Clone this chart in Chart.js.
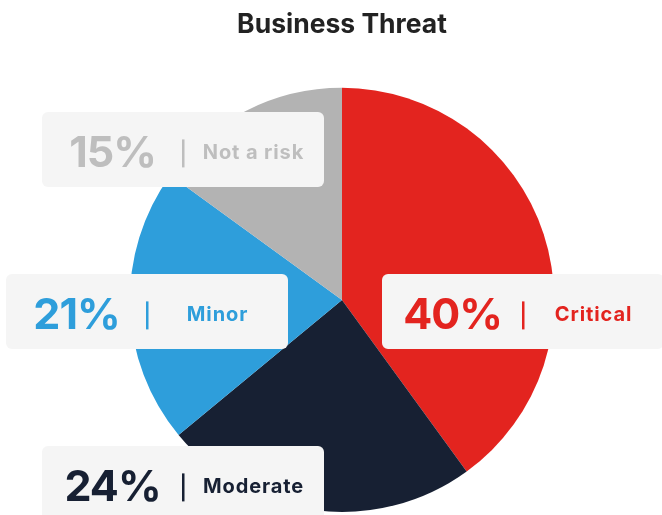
<!DOCTYPE html>
<html>
<head>
<meta charset="utf-8">
<script src="https://cdn.jsdelivr.net/npm/chart.js@4"></script>
<style>
  html, body { margin: 0; padding: 0; background: #fff; }
  #wrap { width: 662px; height: 515px; }
</style>
</head>
<body>
<div id="wrap"><canvas id="threat"></canvas></div>
<script>
// share of answers per threat level (percent)
const levels = ['Critical', 'Moderate', 'Minor', 'Not a risk'];
const shares = [40, 24, 21, 15];
const sliceColors = ['#e3241f', '#172033', '#2e9edb', '#b3b3b3'];
const labelColors = ['#e3241f', '#172033', '#2e9edb', '#bebebe'];

// callout boxes, placed relative to the pie centre
const callouts = {
  0: { dx: 40, dy: -26 },
  1: { dx: -300, dy: 146 },
  2: { dx: -336, dy: -26 },
  3: { dx: -300, dy: -188 }
};

const calloutPlugin = {
  id: 'callouts',
  afterDatasetsDraw(chart, args, opts) {
    const ctx = chart.ctx;
    const arcs = chart.getDatasetMeta(0).data;
    const w = opts.width, h = opts.height;
    ctx.save();
    arcs.forEach((arc, i) => {
      const c = opts.boxes[i];
      const x = arc.x + c.dx, y = arc.y + c.dy;
      ctx.fillStyle = opts.background;
      ctx.beginPath();
      ctx.roundRect(x, y, w, h, 6);
      ctx.fill();

      const color = labelColors[i];
      const sep = x + opts.split;
      const mid = y + h / 2 + 4;
      ctx.fillStyle = color;
      ctx.textBaseline = 'middle';
      ctx.textAlign = 'center';
      ctx.letterSpacing = '-1px';
      ctx.font = '700 43px Inter';
      ctx.fillText(shares[i] + '%', (x + sep) / 2, mid + 1);
      ctx.letterSpacing = '0.9px';
      ctx.font = '700 20px Inter';
      ctx.fillText(levels[i], (sep + x + w) / 2, mid);
      ctx.letterSpacing = '0px';
      ctx.fillRect(sep - 1, mid - 14, 2.5, 28);
    });
    ctx.restore();
  }
};

new Chart(document.getElementById('threat'), {
  type: 'pie',
  data: {
    labels: levels,
    datasets: [{
      data: shares,
      backgroundColor: sliceColors,
      borderWidth: 0
    }]
  },
  options: {
    responsive: true,
    maintainAspectRatio: false,
    animation: false,
    layout: { padding: { left: 22, right: 0, top: 0, bottom: 3 } },
    plugins: {
      legend: { display: false },
      tooltip: { enabled: false },
      title: {
        display: true,
        text: 'Business Threat',
        color: '#222222',
        font: { family: 'Inter', size: 26.5, weight: '700' },
        padding: { top: 9, bottom: 47 }
      },
      callouts: {
        boxes: callouts,
        width: 282,
        height: 75,
        split: 141,
        background: '#f5f5f5'
      }
    }
  },
  plugins: [calloutPlugin]
});
</script>
</body>
</html>
